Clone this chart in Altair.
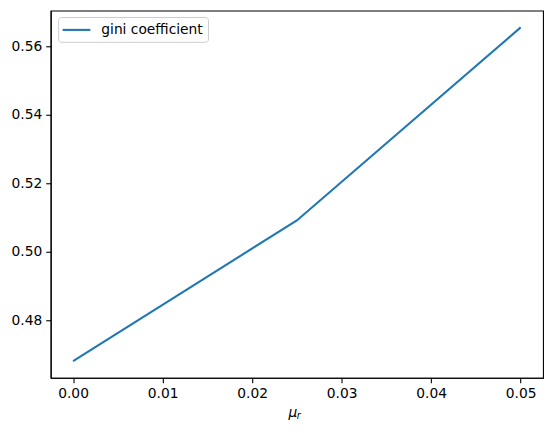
import altair as alt
import pandas as pd

mu_r = [0.0, 0.025, 0.05]
gini = [0.4682, 0.5092, 0.5655]
series_name = "gini coefficient"
x_ticks = [0.0, 0.01, 0.02, 0.03, 0.04, 0.05]
y_ticks = [0.48, 0.50, 0.52, 0.54, 0.56]

df = pd.DataFrame({"mu_r": mu_r, "gini": gini})

FONT = "DejaVu Sans"
BLUE = "#1f77b4"

xs = alt.Scale(domain=[-0.0025, 0.0525], nice=False, zero=False)
ys = alt.Scale(domain=[0.4633, 0.5704], nice=False, zero=False)

line = alt.Chart(df).mark_line(strokeWidth=2.1, color=BLUE, clip=True).encode(
    x=alt.X("mu_r:Q", scale=xs,
            axis=alt.Axis(values=x_ticks, format=".2f", title=None, grid=False)),
    y=alt.Y("gini:Q", scale=ys,
            axis=alt.Axis(values=y_ticks, format=".2f", title=None, grid=False)),
)

one = alt.Chart(pd.DataFrame({"a": [0]}))

# legend box
leg_box = one.mark_rect(fill="white", stroke="#cccccc", strokeWidth=1, cornerRadius=3).encode(
    x=alt.value(8), x2=alt.value(159), y=alt.value(7), y2=alt.value(32))
leg_line = one.mark_rule(color=BLUE, strokeWidth=2.1).encode(
    x=alt.value(12), x2=alt.value(40), y=alt.value(19.5))
leg_text = one.mark_text(text=series_name, font=FONT, fontSize=13.9, color="black",
                         align="left", baseline="middle").encode(
    x=alt.value(51), y=alt.value(19.5))

# x axis title: italic mu with subscript r
t_mu = one.mark_text(text="μ", font=FONT, fontSize=13.9, fontStyle="italic", color="black",
                     align="center", baseline="alphabetic").encode(
    x=alt.value(244), y=alt.value(409))
t_r = one.mark_text(text="r", font=FONT, fontSize=9.7, fontStyle="italic", color="black",
                    align="left", baseline="alphabetic").encode(
    x=alt.value(248), y=alt.value(411.5))

chart = alt.layer(line, leg_box, leg_line, leg_text, t_mu, t_r).properties(
    width=496, height=370,
    autosize=alt.AutoSizeParams(type="none"),
    padding={"left": 43, "top": 1, "right": 5, "bottom": 50},
).configure_view(
    stroke="black", strokeWidth=1.1
).configure_axis(
    labelFont=FONT, labelFontSize=13.9, labelColor="black",
    domainColor="black", domainWidth=1.1, tickColor="black", tickSize=5, tickWidth=1.1,
    labelPadding=4,
)

chart.save("out.html", embed_options={"renderer": "svg", "actions": False})
